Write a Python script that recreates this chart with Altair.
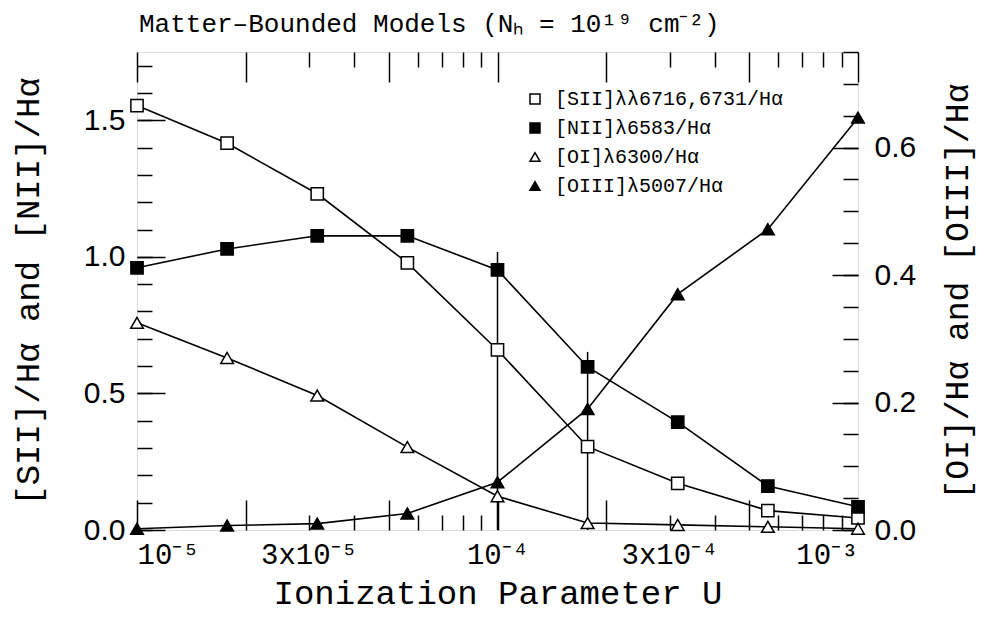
import altair as alt
import pandas as pd

# ---- data ----
U = [1e-5, 1.778e-5, 3.162e-5, 5.623e-5, 1e-4, 1.778e-4, 3.162e-4, 5.623e-4, 1e-3]
sii = [1.554, 1.416, 1.231, 0.978, 0.659, 0.305, 0.171, 0.071, 0.044]
nii = [0.960, 1.029, 1.077, 1.077, 0.952, 0.597, 0.395, 0.161, 0.085]
oi = [0.325, 0.270, 0.211, 0.130, 0.053, 0.011, 0.008, 0.005, 0.002]
oiii = [0.002, 0.007, 0.010, 0.026, 0.075, 0.190, 0.370, 0.472, 0.647]
names = ["[SII]λλ6716,6731/Hα", "[NII]λ6583/Hα", "[OI]λ6300/Hα", "[OIII]λ5007/Hα"]
shapes = ["square", "square", "triangle-up", "triangle-up"]
fills = ["white", "black", "white", "black"]
strokes = ["black", "black", "black", "black"]
vline_u = [1e-4, 1.778e-4]
vline_top = [1.018, 0.652]

x_label_vals = [1e-5, 3e-5, 1e-4, 3e-4, 1e-3]
x_label_text = ["10⁻⁵", "3x10⁻⁵", "10⁻⁴", "3x10⁻⁴", "10⁻³"]
x_major = [1e-5, 2e-5, 5e-5, 1e-4, 2e-4, 5e-4, 1e-3]
x_minor = [3e-5, 4e-5, 6e-5, 7e-5, 8e-5, 9e-5, 3e-4, 4e-4, 6e-4, 7e-4, 8e-4, 9e-4]
yl_major = [0.0, 0.5, 1.0, 1.5]
yl_minor = [round(0.1 * i, 2) for i in range(18)]
yr_major = [0.0, 0.2, 0.4, 0.6]
yr_minor = [round(0.05 * i, 2) for i in range(16)]

left_df = pd.DataFrame({"U": U * 2, "v": sii + nii, "series": [names[0]] * 9 + [names[1]] * 9})
right_df = pd.DataFrame({"U": U * 2, "v": oi + oiii, "series": [names[2]] * 9 + [names[3]] * 9})
rule_df = pd.DataFrame({"U": vline_u, "top": vline_top})

# label expression for x axis
expr = "'" + x_label_text[-1] + "'"
for val, txt in reversed(list(zip(x_label_vals[:-1], x_label_text[:-1]))):
    expr = f"datum.value < {val * 1.4} ? '{txt}' : " + expr

XSCALE = alt.Scale(type="log", domain=[1e-5, 1e-3], nice=False)
LDOM = alt.Scale(domain=[0, 1.75], nice=False, zero=True)
RDOM = alt.Scale(domain=[0, 0.75], nice=False, zero=True)
MONO = "Liberation Mono"
SANS = "Liberation Sans"


def tick_axis(orient, values, size):
    return alt.Axis(orient=orient, values=values, labels=False, domain=False, grid=False,
                    ticks=True, tickSize=size, offset=-size, tickColor="black",
                    tickWidth=1.5, title=None)


x_label_axis = alt.Axis(orient="bottom", values=x_label_vals, labelExpr=expr, ticks=False,
                        domain=False, grid=False, labelPadding=10, labelFont=MONO,
                        labelFontSize=29, labelColor="black",
                        title="Ionization Parameter U", titleFont=MONO, titleFontSize=34,
                        titleFontWeight="normal", titlePadding=7, titleColor="black")

yl_axis = alt.Axis(orient="left", values=yl_major, format=".1f", tickSize=28, offset=-28,
                   tickColor="black", tickWidth=1.5, labelPadding=12, domain=False, grid=False,
                   labelFont=SANS, labelFontSize=30, labelColor="black",
                   title="[SII]/Hα and [NII]/Hα", titleFont=MONO, titleFontSize=34,
                   titleFontWeight="normal", titlePadding=38, titleColor="black")

yr_axis = alt.Axis(orient="right", values=yr_major, format=".1f", tickSize=26, offset=-26,
                   tickColor="black", tickWidth=1.5, labelPadding=16, domain=False, grid=False,
                   labelFont=SANS, labelFontSize=30, labelColor="black",
                   title="[OI]/Hα and [OIII]/Hα", titleFont=MONO, titleFontSize=33,
                   titleFontWeight="normal", titlePadding=26, titleColor="black",
                   titleAngle=270, titleBaseline="top")

legend = alt.Legend(title=None, orient="none", legendX=388, legendY=37, labelFont=MONO,
                    labelFontSize=20, labelColor="black", symbolSize=100, labelLimit=400,
                    rowPadding=9, labelOffset=10, symbolStrokeWidth=1.5)

shape_enc = alt.Shape("series:N", scale=alt.Scale(domain=names, range=shapes), legend=legend)
fill_enc = alt.Fill("series:N", scale=alt.Scale(domain=names, range=fills), legend=legend)
stroke_enc = alt.Stroke("series:N", scale=alt.Scale(domain=names, range=strokes), legend=legend)

lines_left = alt.Chart(left_df).mark_line(color="black", strokeWidth=1.6).encode(
    x=alt.X("U:Q", scale=XSCALE, axis=x_label_axis),
    y=alt.Y("v:Q", scale=LDOM, axis=yl_axis),
    detail="series:N",
)

points_left = alt.Chart(left_df).mark_point(filled=True, strokeWidth=1.5,
                                            size=150, opacity=1).encode(
    x=alt.X("U:Q", scale=XSCALE, axis=tick_axis("bottom", x_minor, 15)),
    y=alt.Y("v:Q", scale=LDOM, axis=tick_axis("left", yl_minor, 15)),
    shape=shape_enc,
    fill=fill_enc,
    stroke=stroke_enc,
)

rules = alt.Chart(rule_df).mark_rule(color="black", strokeWidth=1.5).encode(
    x=alt.X("U:Q", scale=XSCALE, axis=tick_axis("bottom", x_major, 30)),
    y=alt.Y("zero:Q", scale=LDOM, axis=None),
    y2="top:Q",
).transform_calculate(zero="0")

lines_right = alt.Chart(right_df).mark_line(color="black", strokeWidth=1.6).encode(
    x=alt.X("U:Q", scale=XSCALE, axis=tick_axis("top", x_minor, 15)),
    y=alt.Y("v:Q", scale=RDOM, axis=yr_axis),
    detail="series:N",
)

points_right = alt.Chart(right_df).mark_point(filled=True, strokeWidth=1.5,
                                              size=160, opacity=1).encode(
    x=alt.X("U:Q", scale=XSCALE, axis=tick_axis("top", x_major, 30)),
    y=alt.Y("v:Q", scale=RDOM, axis=tick_axis("right", yr_minor, 15)),
    shape=shape_enc,
    fill=fill_enc,
    stroke=stroke_enc,
)

chart = alt.layer(rules, lines_left, lines_right, points_left, points_right).resolve_scale(
    y="independent"
).resolve_axis(x="independent", y="independent").properties(
    width=721,
    height=478,
    padding={"left": 129, "top": 44, "right": 120, "bottom": 86},
    autosize=alt.AutoSizeParams(type="none"),
    title=alt.TitleParams("Matter–Bounded Models (Nₕ = 10¹⁹ cm⁻²)", anchor="start",
                          frame="group", font=MONO, fontSize=26, fontWeight="normal",
                          offset=14, dx=2, color="black"),
).configure_view(stroke="black", strokeWidth=2).configure(background="white")

chart.save("out.html", embed_options={"renderer": "svg", "actions": False})
